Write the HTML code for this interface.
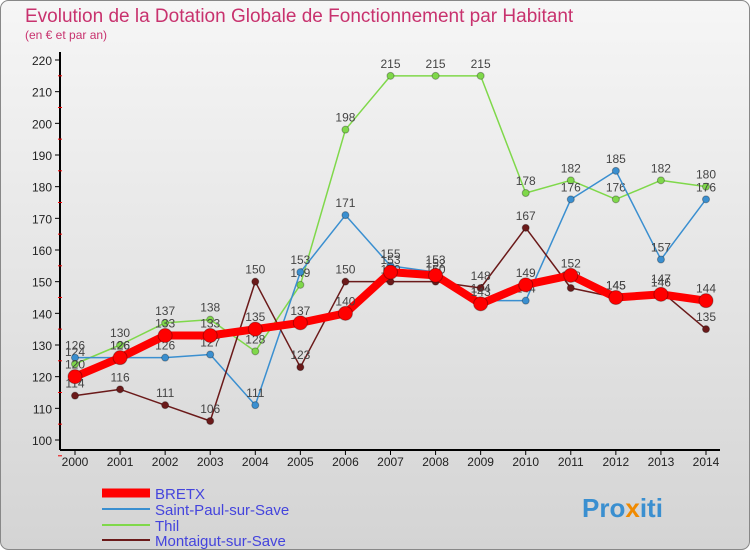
<!DOCTYPE html>
<html><head><meta charset="utf-8"><style>
body{margin:0;width:750px;height:550px;overflow:hidden;font-family:"Liberation Sans",sans-serif}
</style></head><body>
<svg width="750" height="550" xmlns="http://www.w3.org/2000/svg">
<defs><linearGradient id="bg" x1="0" y1="0" x2="0" y2="1"><stop offset="0" stop-color="#f6f6f6"/><stop offset="1" stop-color="#d4d4d4"/></linearGradient></defs>
<rect x="0.5" y="0.5" width="749" height="549" rx="8" fill="url(#bg)" stroke="#888"/>
<text x="25" y="22" font-size="19" fill="#c8326e">Evolution de la Dotation Globale de Fonctionnement par Habitant</text>
<text x="25" y="39" font-size="12" fill="#c8326e">(en € et par an)</text>
<g id="axes"></g><g id="series"></g>
<g>
<line x1="102" y1="493" x2="150" y2="493" stroke="#ff0000" stroke-width="9"/>
<text x="155" y="499" font-size="15" fill="#4444dd">BRETX</text>
<line x1="102" y1="509" x2="150" y2="509" stroke="#3a8fd0" stroke-width="2"/>
<text x="155" y="515" font-size="15" fill="#4444dd">Saint-Paul-sur-Save</text>
<line x1="102" y1="525" x2="150" y2="525" stroke="#7fd84a" stroke-width="2"/>
<text x="155" y="531" font-size="15" fill="#4444dd">Thil</text>
<line x1="102" y1="540" x2="150" y2="540" stroke="#6b1a1a" stroke-width="2"/>
<text x="155" y="546" font-size="15" fill="#4444dd">Montaigut-sur-Save</text>
</g>
<text x="582" y="517" font-size="26" font-weight="bold" fill="#3a8fd0">Pro<tspan fill="#f08a00">x</tspan>iti</text>
</svg>
<script>
const years=[2000,2001,2002,2003,2004,2005,2006,2007,2008,2009,2010,2011,2012,2013,2014];
const yTicks=[100,110,120,130,140,150,160,170,180,190,200,210,220];
const bretx=[120,126,133,133,135,137,140,153,152,143,149,152,145,146,144];
const saintPaul=[126,126,126,127,111,153,171,155,153,144,144,176,185,157,176];
const thil=[124,130,137,138,128,149,198,215,215,215,178,182,176,182,180];
const montaigut=[114,116,111,106,150,123,150,150,150,148,167,148,145,147,135];
const NS='http://www.w3.org/2000/svg';
const xs=i=>75+i*(706-75)/14;
const ys=v=>440-(v-100)*(380/120);
function mk(tag,attrs,parent){const e=document.createElementNS(NS,tag);for(const k in attrs)e.setAttribute(k,attrs[k]);parent.appendChild(e);return e;}
const ax=document.getElementById('axes');
let a=mk('line',{x1:60,y1:52,x2:60,y2:450,stroke:'#000','stroke-width':2},ax);


a=mk('line',{x1:60,y1:450,x2:720,y2:450,stroke:'#000','stroke-width':2},ax);


yTicks.forEach(v=>{const y=ys(v);
 mk('line',{x1:55,y1:y,x2:60,y2:y,stroke:'#000'},ax);
 mk('line',{x1:58,y1:y+15.8,x2:62,y2:y+15.8,stroke:'#e00'},ax);
 const t=mk('text',{x:52,y:y+5,'font-size':12,'text-anchor':'end',fill:'#222'},ax);t.textContent=v;
 
 });
years.forEach((yr,i)=>{const x=xs(i);
 mk('line',{x1:x,y1:450,x2:x,y2:455,stroke:'#000'},ax);
 const t=mk('text',{x:x,y:466,'font-size':12,'text-anchor':'middle',fill:'#222'},ax);t.textContent=yr;
 
 });
const sg=document.getElementById('series');
function draw(data,color,w,r,name){
 const g=mk('g',{},sg);
 
 
 const pl=mk('polyline',{points:data.map((v,i)=>xs(i)+','+ys(v)).join(' '),fill:'none',stroke:color,'stroke-width':w,'stroke-linejoin':'round'},g);
 
 
 data.forEach((v,i)=>{const c=mk('circle',{cx:xs(i),cy:ys(v),r:r,fill:color,stroke:'rgba(0,0,0,0.3)'},g);
  
  
  const t=mk('text',{x:xs(i),y:ys(v)-8,'font-size':12,'text-anchor':'middle',fill:'#444'},g);t.textContent=v;
  
  });
}
draw(thil,'#7fd84a',1.5,3.5,'thil');
draw(saintPaul,'#3a8fd0',1.5,3.5,'saint-paul');
draw(montaigut,'#6b1a1a',1.5,3.5,'montaigut');
draw(bretx,'#ff0000',8,7,'bretx');
</script>
</body></html>
